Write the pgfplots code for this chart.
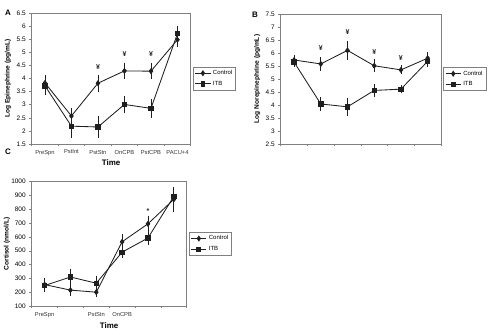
\documentclass[border=0pt]{standalone}
\usepackage{fontspec}
\setmainfont{Liberation Sans}
\usepackage{pgfplots}
\pgfplotsset{compat=1.18}
\definecolor{frame}{gray}{0.5}
\definecolor{ink}{gray}{0.12}
\pgfplotsset{
  myaxis/.style={
    scale only axis,
    axis line style={draw=frame, line width=0.6pt},
    tick style={draw=frame, line width=0.5pt},
    tick align=outside, major tick length=2.5pt,
    xtick pos=lower, ytick pos=left,
    xmin=-0.5, xmax=5.5,
    xtick={-0.5,0.5,1.5,2.5,3.5,4.5,5.5},
    x tick label as interval,
    tick label style={font=\fontsize{6.5}{7}\selectfont, text=black},
    xticklabel style={font=\fontsize{5.8}{7}\selectfont, text=black!80},
    /pgf/number format/assume math mode=true,
    /pgf/number format/1000 sep={},
    xlabel style={font=\bfseries\fontsize{8}{9}\selectfont, at={(axis description cs:0.5,-0.145)}, anchor=center},
    ylabel style={font=\bfseries\fontsize{6.6}{8}\selectfont},
    legend style={at={(1.015,0.5)}, anchor=west, draw=frame, line width=0.5pt,
      font=\fontsize{6}{7}\selectfont, inner sep=1.5pt, row sep=1pt},
    legend cell align=left,
    legend image post style={xscale=0.9},
    clip=false,
  },
  control/.style={draw=ink, line width=0.85pt, mark=diamond*, mark size=2.4pt,
    mark options={fill=ink, draw=ink},
    error bars/.cd, y dir=both, y explicit,
    error bar style={line width=0.6pt, draw=ink},
    error mark options={mark size=2pt, line width=0.6pt, draw=ink}},
  itb/.style={draw=ink, line width=0.85pt, mark=square*, mark size=2.2pt,
    mark options={fill=ink, draw=ink},
    error bars/.cd, y dir=both, y explicit,
    error bar style={line width=0.6pt, draw=ink},
    error mark options={mark size=2pt, line width=0.6pt, draw=ink}},
  sig/.style={draw=none, mark=none, forget plot, nodes near coords,
    point meta=explicit symbolic,
    nodes near coords style={anchor=center, font=\bfseries\fontsize{7}{8}\selectfont, text=ink}},
}
\begin{document}
\begin{tikzpicture}
\path[use as bounding box] (0,0) rectangle (500bp,335bp);
\node[font=\bfseries\fontsize{8}{9}\selectfont] at (8bp,322bp) {A};
\node[font=\bfseries\fontsize{8}{9}\selectfont] at (255bp,320bp) {B};
\node[font=\bfseries\fontsize{8}{9}\selectfont] at (8bp,183bp) {C};

% Panel A
\begin{axis}[myaxis, at={(31.7bp,191bp)}, anchor=south west,
  width=159bp, height=131bp,
  ymin=1.5, ymax=6.5, ytick={1.5,2,...,6.5},
  xticklabels={PreSpn,PstInt,PstStn,OnCPB,PstCPB,PACU+4},
  xlabel={Time}, ylabel={Log Epinephrine (pg/mL)},
  ylabel style={at={(axis description cs:-0.15,0.5)}, anchor=center}]
\addplot[control] coordinates {(0,3.83) +- (0,0.22) (1,2.57) +- (0,0.23) (2,3.82) +- (0,0.25) (3,4.29) +- (0,0.24) (4,4.28) +- (0,0.22) (5,5.48) +- (0,0.2)};
\addlegendentry{Control}
\addplot[itb] coordinates {(0,3.72) +- (0,0.28) (1,2.18) +- (0,0.37) (2,2.15) +- (0,0.35) (3,3.01) +- (0,0.25) (4,2.86) +- (0,0.28) (5,5.71) +- (0,0.2)};
\addlegendentry{ITB}
\addplot[sig] coordinates {(2,4.42) [¥] (3,4.92) [¥] (4,4.95) [¥]};
\end{axis}

% Panel B
\begin{axis}[myaxis, at={(280.7bp,191bp)}, anchor=south west,
  width=160.3bp, height=130bp,
  ymin=2.5, ymax=7.5, ytick={2.5,3,...,7.5},
  xticklabels={},
  ylabel={Log Norepinephrine (pg/mL)},
  ylabel style={at={(axis description cs:-0.146,0.5)}, anchor=center}]
\addplot[control] coordinates {(0,5.73) +- (0,0.1) (1,5.58) +- (0,0.18) (2,6.1) +- (0,0.3) (3,5.51) +- (0,0.17) (4,5.35) +- (0,0.1) (5,5.8) +- (0,0.15)};
\addlegendentry{Control}
\addplot[itb] coordinates {(0,5.65) +- (0,0.1) (1,4.04) +- (0,0.18) (2,3.93) +- (0,0.27) (3,4.56) +- (0,0.18) (4,4.61) +- (0,0.08) (5,5.68) +- (0,0.15)};
\addlegendentry{ITB}
\addplot[sig] coordinates {(1,6.18) [¥] (2,6.8) [¥] (3,6.05) [¥] (4,5.82) [¥]};
\end{axis}

% Panel C
\begin{axis}[myaxis, at={(31.7bp,29bp)}, anchor=south west,
  width=155bp, height=124.3bp,
  ymin=100, ymax=1000, ytick={100,200,...,1000},
  xticklabels={PreSpn,,PstStn,OnCPB,,},
  xlabel={Time}, ylabel={Cortisol (nmol/L)},
  xlabel style={at={(axis description cs:0.5,-0.16)}},
  ylabel style={at={(axis description cs:-0.16,0.5)}, anchor=center}]
\addplot[control] coordinates {(0,255) +- (0,35) (1,215) +- (0,25) (2,200) +- (0,20) (3,565) +- (0,40) (4,695) +- (0,45) (5,872) +- (0,75)};
\addlegendentry{Control}
\addplot[itb] coordinates {(0,248) +- (0,30) (1,310) +- (0,45) (2,265) +- (0,40) (3,490) +- (0,30) (4,592) +- (0,35) (5,893) +- (0,55)};
\addlegendentry{ITB}
\addplot[sig] coordinates {(4,790) [*]};
\end{axis}
\end{tikzpicture}
\end{document}
